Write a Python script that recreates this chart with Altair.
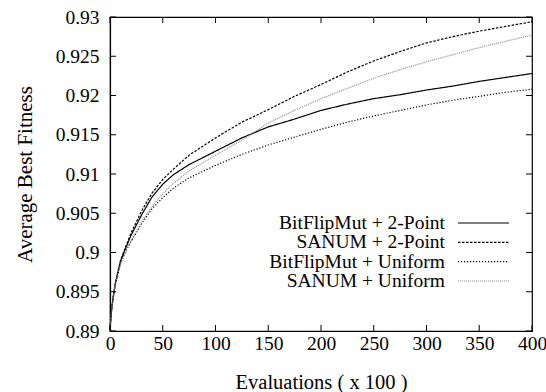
import altair as alt
import pandas as pd

# ---- data ----
evals = [0, 1, 2, 3, 5, 7, 10, 15, 20, 30, 40, 50, 60, 75, 100, 125, 150, 175,
         200, 225, 250, 275, 300, 325, 350, 375, 400]
bitflip_2point = [0.8902, 0.8920, 0.8933, 0.8943, 0.8960, 0.8972, 0.8989, 0.9006, 0.9022,
                  0.9048, 0.9071, 0.9087, 0.9099, 0.9112, 0.9129, 0.9146, 0.9160, 0.9170,
                  0.9181, 0.9189, 0.9196, 0.9201, 0.9207, 0.9212, 0.9218, 0.9223, 0.9228]
sanum_2point = [0.8902, 0.8920, 0.8933, 0.8943, 0.8960, 0.8973, 0.8990, 0.9008, 0.9025,
                0.9053, 0.9076, 0.9093, 0.9106, 0.9124, 0.9146, 0.9166, 0.9182, 0.9199,
                0.9214, 0.9230, 0.9244, 0.9256, 0.9267, 0.9275, 0.9282, 0.9288, 0.9294]
bitflip_uniform = [0.8902, 0.8919, 0.8932, 0.8942, 0.8959, 0.8970, 0.8986, 0.9002, 0.9014,
                   0.9037, 0.9056, 0.9070, 0.9082, 0.9095, 0.9111, 0.9125, 0.9137, 0.9147,
                   0.9157, 0.9166, 0.9174, 0.9181, 0.9188, 0.9194, 0.9199, 0.9204, 0.9208]
sanum_uniform = [0.8902, 0.8919, 0.8932, 0.8942, 0.8959, 0.8970, 0.8986, 0.9002, 0.9015,
                 0.9039, 0.9059, 0.9075, 0.9088, 0.9104, 0.9124, 0.9143, 0.9165, 0.9181,
                 0.9196, 0.9209, 0.9222, 0.9233, 0.9243, 0.9252, 0.9261, 0.9269, 0.9277]

series_names = ["BitFlipMut + 2-Point", "SANUM + 2-Point",
                "BitFlipMut + Uniform", "SANUM + Uniform"]
series_values = [bitflip_2point, sanum_2point, bitflip_uniform, sanum_uniform]
series_colors = ["black", "black", "black", "#8c8c8c"]
series_dashes = [[1, 0], [2.5, 1.5], [1.2, 1.8], [1, 1]]

x_ticks = [0, 50, 100, 150, 200, 250, 300, 350, 400]
y_ticks = [0.89, 0.895, 0.9, 0.905, 0.91, 0.915, 0.92, 0.925, 0.93]

rows = []
for name, vals in zip(series_names, series_values):
    for i, (xv, yv) in enumerate(zip(evals, vals)):
        rows.append({"series": name, "evals": xv, "fitness": yv, "order": i})
df = pd.DataFrame(rows)
legend_df = pd.DataFrame({"series": series_names})

W, H = 422, 314
FONT = "Liberation Serif"
TL = 6  # tick length

xscale = alt.Scale(domain=[0, 400], nice=False, zero=False)
yscale = alt.Scale(domain=[0.89, 0.93], nice=False, zero=False)
color_enc = alt.Color("series:N", scale=alt.Scale(domain=series_names, range=series_colors),
                      legend=None)
dash_enc = alt.StrokeDash("series:N", scale=alt.Scale(domain=series_names, range=series_dashes),
                          legend=None)

x_axis = alt.Axis(values=x_ticks, ticks=False, grid=False, labelPadding=3,
                  labelFont=FONT, labelFontSize=19.5, labelColor="black",
                  labelFlush=False,
                  domainColor="black", title="Evaluations ( x 100 )",
                  titleFont=FONT, titleFontSize=20.5, titleFontWeight="normal",
                  titleColor="black", titleX=W / 2, titleY=51,
                  titleBaseline="middle")
y_axis = alt.Axis(values=y_ticks, ticks=False, grid=False, labelPadding=11,
                  labelFont=FONT, labelFontSize=19.5, labelColor="black",
                  labelFlush=False, labelExpr="'' + datum.value",
                  domainColor="black", title="Average Best Fitness",
                  titleFont=FONT, titleFontSize=21, titleFontWeight="normal",
                  titleColor="black", titleX=-85, titleY=H / 2,
                  titleBaseline="middle")

lines = alt.Chart(df).mark_line(strokeWidth=1.2).encode(
    x=alt.X("evals:Q", scale=xscale, axis=x_axis),
    y=alt.Y("fitness:Q", scale=yscale, axis=y_axis),
    order="order:Q",
    color=color_enc,
    strokeDash=dash_enc,
)

leg_y = alt.Y("series:N", scale=alt.Scale(type="point", domain=series_names,
                                          range=[206, 264], padding=0), axis=None)
legend_text = alt.Chart(legend_df).mark_text(
    align="right", baseline="middle", font=FONT, fontSize=19.5, color="black"
).encode(text="series:N", y=leg_y, x=alt.value(335))
legend_line = alt.Chart(legend_df).mark_rule(strokeWidth=1.2).encode(
    y=leg_y, x=alt.value(348), x2=alt.value(399), color=color_enc, strokeDash=dash_enc)

xt = pd.DataFrame({"t": x_ticks})
yt = pd.DataFrame({"t": y_ticks})
xt_enc = alt.X("t:Q", scale=xscale, axis=x_axis)
yt_enc = alt.Y("t:Q", scale=yscale, axis=None)

tick_bottom = alt.Chart(xt).mark_rule(color="black", strokeWidth=1).encode(
    x=xt_enc, y=alt.value(H), y2=alt.value(H - TL))
tick_top = alt.Chart(xt).mark_rule(color="black", strokeWidth=1).encode(
    x=xt_enc, y=alt.value(0), y2=alt.value(TL))
tick_left = alt.Chart(yt).mark_rule(color="black", strokeWidth=1).encode(
    y=yt_enc, x=alt.value(0), x2=alt.value(TL))
tick_right = alt.Chart(yt).mark_rule(color="black", strokeWidth=1).encode(
    y=yt_enc, x=alt.value(W), x2=alt.value(W - TL))

chart = alt.layer(lines, legend_text, legend_line, tick_bottom, tick_top,
                  tick_left, tick_right).resolve_scale(y="independent").properties(
    width=W, height=H,
    autosize=alt.AutoSizeParams(type="none"),
    padding={"left": 110, "top": 17, "right": 14, "bottom": 61},
    background="white",
).configure_view(stroke="black", strokeWidth=1.2).configure_axis(domainWidth=1.2)

chart.save("out.html", embed_options={"renderer": "svg", "actions": False})
